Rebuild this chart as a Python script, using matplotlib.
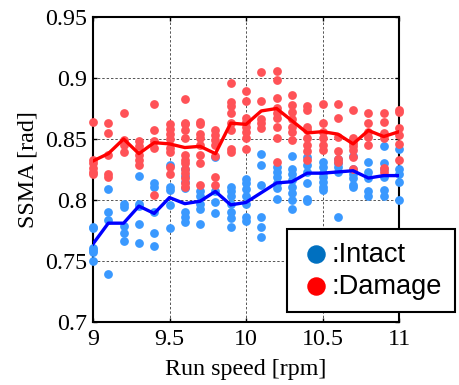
import matplotlib
matplotlib.use("Agg")
import matplotlib.pyplot as plt
from matplotlib.lines import Line2D
from matplotlib.patches import Rectangle

speeds = [9.0, 9.1, 9.2, 9.3, 9.4, 9.5, 9.6, 9.7, 9.8, 9.9, 10.0,
          10.1, 10.2, 10.3, 10.4, 10.5, 10.6, 10.7, 10.8, 10.9, 11.0]

intact_pts = [
    [0.778, 0.777, 0.761, 0.759, 0.757, 0.750],
    [0.809, 0.790, 0.784, 0.739],
    [0.797, 0.794, 0.779, 0.773, 0.766],
    [0.820, 0.797, 0.795, 0.780, 0.765],
    [0.814, 0.811, 0.790, 0.773, 0.762],
    [0.829, 0.811, 0.808, 0.796, 0.777],
    [0.825, 0.820, 0.815, 0.810, 0.790, 0.786, 0.782],
    [0.807, 0.803, 0.797, 0.793, 0.780],
    [0.835, 0.807, 0.798, 0.789],
    [0.811, 0.807, 0.803, 0.797, 0.790, 0.785, 0.778],
    [0.817, 0.814, 0.809, 0.803, 0.797, 0.786, 0.783],
    [0.838, 0.829, 0.812, 0.786, 0.778, 0.770],
    [0.827, 0.823, 0.819, 0.814, 0.810, 0.801],
    [0.836, 0.825, 0.821, 0.816, 0.811, 0.806, 0.800, 0.793],
    [0.835, 0.829, 0.823, 0.814, 0.801, 0.799],
    [0.831, 0.827, 0.822, 0.819, 0.815, 0.811, 0.808],
    [0.834, 0.830, 0.827, 0.823, 0.786],
    [0.836, 0.825, 0.821, 0.818, 0.812, 0.811],
    [0.831, 0.823, 0.818, 0.807, 0.803],
    [0.844, 0.830, 0.825, 0.819, 0.808, 0.803],
    [0.842, 0.825, 0.821, 0.815, 0.800],
]

damage_pts = [
    [0.864, 0.833, 0.830, 0.826, 0.823, 0.821],
    [0.863, 0.855, 0.837, 0.821, 0.819],
    [0.871, 0.849, 0.845, 0.839],
    [0.848, 0.844, 0.837, 0.833, 0.829],
    [0.879, 0.857, 0.848, 0.843, 0.804],
    [0.862, 0.858, 0.854, 0.850, 0.843, 0.839, 0.827, 0.821],
    [0.883, 0.863, 0.862, 0.857, 0.851, 0.837, 0.833, 0.830, 0.825, 0.822, 0.818, 0.814, 0.811],
    [0.864, 0.862, 0.854, 0.851, 0.845, 0.837, 0.830, 0.812],
    [0.857, 0.853, 0.849, 0.845, 0.836, 0.819, 0.812],
    [0.896, 0.880, 0.877, 0.871, 0.863, 0.857, 0.842, 0.839],
    [0.889, 0.881, 0.867, 0.864, 0.860, 0.856, 0.851, 0.842],
    [0.905, 0.881, 0.866, 0.863, 0.859],
    [0.906, 0.898, 0.884, 0.875, 0.871, 0.867, 0.860, 0.851, 0.831],
    [0.886, 0.878, 0.872, 0.866, 0.860, 0.856, 0.849],
    [0.877, 0.874, 0.860, 0.857, 0.851, 0.845, 0.840, 0.833],
    [0.879, 0.863, 0.856, 0.851, 0.845, 0.841],
    [0.879, 0.867, 0.852, 0.840, 0.834, 0.831],
    [0.874, 0.851, 0.847, 0.844, 0.841, 0.835, 0.825],
    [0.871, 0.863, 0.856, 0.852, 0.845],
    [0.871, 0.864, 0.855, 0.851, 0.826, 0.823],
    [0.874, 0.872, 0.859, 0.853, 0.846, 0.833],
]

intact_mean = [0.764, 0.781, 0.781, 0.795, 0.789, 0.802, 0.797, 0.799, 0.807, 0.796, 0.798,
               0.806, 0.814, 0.815, 0.822, 0.822, 0.823, 0.824, 0.818, 0.820, 0.820]
damage_mean = [0.832, 0.838, 0.850, 0.838, 0.847, 0.846, 0.843, 0.844, 0.838, 0.863, 0.862,
               0.873, 0.875, 0.865, 0.855, 0.856, 0.854, 0.846, 0.857, 0.852, 0.856]

x_ticks = [9, 9.5, 10, 10.5, 11]
x_ticklabels = ["9", "9.5", "10", "10.5", "11"]
y_ticks = [0.7, 0.75, 0.8, 0.85, 0.9, 0.95]
y_ticklabels = ["0.7", "0.75", "0.8", "0.85", "0.9", "0.95"]
legend_labels = [":Intact", ":Damage"]

W, H = 459, 385
fig = plt.figure(figsize=(W / 100, H / 100), dpi=100)
ax = fig.add_axes([93 / W, 1 - 322 / H, 306 / W, 305 / H])

serif = "Liberation Serif"
fs = 17.3

def flat(pts):
    xs, ys = [], []
    for s, vals in zip(speeds, pts):
        for v in vals:
            xs.append(s)
            ys.append(v)
    return xs, ys

ix, iy = flat(intact_pts)
dx, dy = flat(damage_pts)
ax.scatter(ix, iy, s=40, color="#3A99FF", linewidths=0, zorder=3, clip_on=False)
ax.scatter(dx, dy, s=40, color="#FF5257", linewidths=0, zorder=4, clip_on=False)
ax.plot(speeds, intact_mean, color="#0000FF", lw=2.4, zorder=5)
ax.plot(speeds, damage_mean, color="#FF0000", lw=2.4, zorder=6)

ax.set_xlim(9, 11)
ax.set_ylim(0.7, 0.95)
ax.set_xticks(x_ticks)
ax.set_xticklabels(x_ticklabels, fontsize=fs, family=serif)
ax.set_yticks(y_ticks)
ax.set_yticklabels(y_ticklabels, fontsize=fs, family=serif)
ax.tick_params(axis="both", direction="in", length=3, width=1, top=True, right=True)
ax.tick_params(axis="x", pad=5)
ax.tick_params(axis="y", pad=4)
ax.grid(True, linestyle=(0, (2.5, 2)), color="#555555", linewidth=0.7, zorder=0)
ax.set_axisbelow(True)
for sp in ax.spines.values():
    sp.set_linewidth(1.5)
    sp.set_color("black")

ax.set_xlabel("Run speed [rpm]", fontsize=fs, family=serif, va="center")
ax.xaxis.set_label_coords(0.5, (322 - 370) / 305)
ax.set_ylabel("SSMA [rad]", fontsize=fs, family=serif, va="center")
ax.yaxis.set_label_coords((28 - 93) / 306, 0.5)

# legend box
fig.add_artist(Rectangle((286.5 / W, 1 - 312 / H), (455 - 286.5) / W, (312 - 228.5) / H,
                         transform=fig.transFigure, facecolor="white", edgecolor="black",
                         linewidth=1.5, zorder=10))
leg_colors = ["#0070C0", "#FF0000"]
marker_y = [253.5, 285.5]
base_y = [261.5, 293.5]
for lab, c, my, by in zip(legend_labels, leg_colors, marker_y, base_y):
    fig.add_artist(Line2D([316 / W], [1 - my / H], marker="o", markersize=12.3, color=c,
                          linestyle="none", transform=fig.transFigure, zorder=11))
    fig.text(332 / W, 1 - by / H, lab, fontsize=19.6, family="Liberation Sans",
             va="baseline", ha="left", zorder=11)

fig.savefig("out.png", dpi=100)
